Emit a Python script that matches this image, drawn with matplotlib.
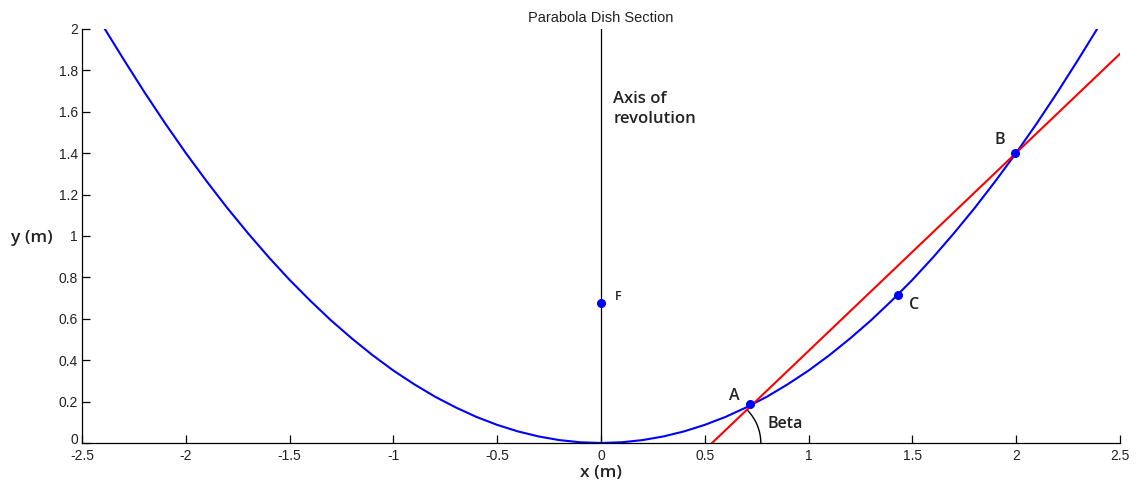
import matplotlib.pyplot as plt
import matplotlib.transforms as mtransforms
from matplotlib.patches import Arc

# dish profile (right half, the section is symmetric about x = 0)
dish_x = [0.0, 0.1, 0.2, 0.3, 0.4, 0.5, 0.6, 0.7, 0.8, 0.9, 1.0, 1.1, 1.2,
          1.3, 1.4, 1.5, 1.6, 1.7, 1.8, 1.9, 2.0, 2.1, 2.2, 2.3, 2.39]
dish_y = [0.0, 0.0035, 0.014, 0.0315, 0.056, 0.0876, 0.126, 0.172, 0.224,
          0.284, 0.350, 0.424, 0.505, 0.592, 0.687, 0.788, 0.897, 1.013,
          1.135, 1.265, 1.401, 1.545, 1.696, 1.854, 2.0]

# chord line through A and B
chord_x = [0.535, 2.5]
chord_y = [0.0, 1.88]

# marked points
pt_names = ['A', 'B', 'C', 'F']
pt_x = [0.718, 1.994, 1.43, 0.0]
pt_y = [0.188, 1.40, 0.715, 0.676]

xticks = [-2.5, -2, -1.5, -1, -0.5, 0, 0.5, 1, 1.5, 2, 2.5]
xticklabels = ['-2.5', '-2', '-1.5', '-1', '-0.5', '0', '0.5', '1', '1.5', '2', '2.5']
yticks = [0, 0.2, 0.4, 0.6, 0.8, 1, 1.2, 1.4, 1.6, 1.8, 2]
yticklabels = ['0', '0.2', '0.4', '0.6', '0.8', '1', '1.2', '1.4', '1.6', '1.8', '2']

full_x = [-v for v in dish_x[::-1]] + dish_x[1:]
full_y = dish_y[::-1] + dish_y[1:]

fig = plt.figure(figsize=(11.37, 4.92), dpi=100)
ax = fig.add_axes([0.0721, 0.0996, 0.9129, 0.8415])

ax.plot([0, 0], [0, 2], color='black', linewidth=0.9)
ax.plot(full_x, full_y, color='#0000ff', linewidth=1.5)
ax.plot(chord_x, chord_y, color='#ff0000', linewidth=1.5)
ax.plot(pt_x, pt_y, 'o', color='#0000ff', markersize=5.5, linestyle='none')

# angle between chord and x axis
ax.add_patch(Arc((chord_x[0], chord_y[0]), 0.47, 0.46, theta1=0, theta2=43.5,
                 color='black', linewidth=1.0))

lab = dict(family='Open Sans', fontsize=11.5, color='#222222', fontweight='semibold')
ax.text(0.06, 1.612, 'Axis of\nrevolution', va='center', ha='left', linespacing=1.3,
        fontsize=12, family='Open Sans', fontweight='semibold', color='#222222')
ax.text(0.64, 0.225, 'A', ha='center', va='center', **lab)
ax.text(1.92, 1.465, 'B', ha='center', va='center', **lab)
ax.text(1.51, 0.665, 'C', ha='center', va='center', **lab)
ax.text(0.085, 0.71, 'F', ha='center', va='center', family='Open Sans', fontsize=9,
        color='#222222', fontweight='semibold')
ax.text(0.80, 0.09, 'Beta', ha='left', va='center', **lab)

ax.set_xlim(-2.5, 2.5)
ax.set_ylim(0, 2)
ax.set_xticks(xticks)
ax.set_xticklabels(xticklabels)
ax.set_yticks(yticks)
ax.set_yticklabels(yticklabels)
ax.tick_params(direction='in', length=6, width=0.9, labelsize=10, colors='black',
               labelcolor='#222222')
ax.tick_params(axis='x', pad=4)
ax.tick_params(axis='y', pad=3)
for lbl in ax.get_xticklabels() + ax.get_yticklabels():
    lbl.set_family('Liberation Sans')

# lift the "0" on the y axis a little so it clears the first x label
zero_lbl = ax.get_yticklabels()[0]
zero_lbl.set_transform(zero_lbl.get_transform() +
                       mtransforms.ScaledTranslation(0, 3 / 72, fig.dpi_scale_trans))

ax.spines['top'].set_visible(False)
ax.spines['right'].set_visible(False)
ax.spines['left'].set_linewidth(0.9)
ax.spines['bottom'].set_linewidth(0.9)

ax.set_title('Parabola Dish Section', fontsize=10.5, family='Liberation Sans', color='#222222', pad=5)
ax.set_xlabel('x (m)', fontsize=12.5, family='Open Sans', fontweight='semibold',
              color='#222222', labelpad=2)
ax.set_ylabel('y (m)', fontsize=12.5, family='Open Sans', fontweight='semibold',
              color='#222222', rotation=0, va='center', ha='center')
ax.yaxis.set_label_coords(-0.0487, 0.495)

fig.savefig('out.png', dpi=100)
